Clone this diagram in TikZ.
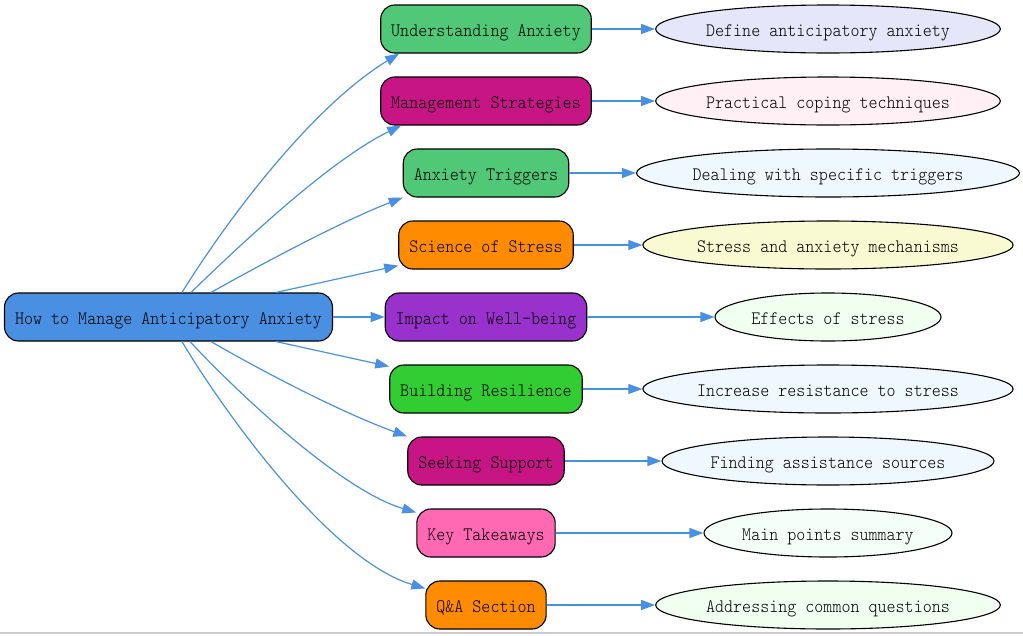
\documentclass[tikz,border=0pt]{standalone}
\usepackage{fontspec}
\newfontfamily\dmono{lmmonolt10-regular.otf}[FakeStretch=0.905]
\usetikzlibrary{shapes.geometric,arrows.meta}
\definecolor{edgeblue}{HTML}{4A90E2}
\definecolor{rootblue}{HTML}{4A90E2}
\definecolor{emerald}{HTML}{50C878}
\definecolor{mvred}{HTML}{C71585}
\definecolor{dorange}{HTML}{FF8C00}
\definecolor{dorchid}{HTML}{9932CC}
\definecolor{lgreen}{HTML}{32CD32}
\definecolor{hpink}{HTML}{FF69B4}
\definecolor{lavender}{HTML}{E6E6FA}
\definecolor{lblush}{HTML}{FFF0F5}
\definecolor{aliceblue}{HTML}{F0F8FF}
\definecolor{lgyellow}{HTML}{FAFAD2}
\definecolor{honeydew}{HTML}{F0FFF0}
\definecolor{mintcream}{HTML}{F5FFFA}
\begin{document}
\begin{tikzpicture}[x=1pt,y=-1pt,
  lbl/.style={font=\dmono\fontsize{19}{22}\selectfont,text height=16.5pt,text depth=2.3pt},
  box/.style={lbl,draw=black,line width=1.1pt,rounded corners=14pt,minimum height=48pt,
    inner xsep=10.5pt,inner ysep=0pt},
  oval/.style={lbl,ellipse,draw=black,line width=1.1pt,minimum height=48pt,inner sep=0pt},
  edge/.style={draw=edgeblue,line width=1.2pt,-{Triangle[length=14pt,width=10pt]}}]
\useasboundingbox (0,0) rectangle (1023,635);
\draw[line width=1.5pt,color=black!20] (0,633) -- (1023,633);

\node[box,fill=rootblue] (root) at (168.5,317) {How to Manage Anticipatory Anxiety};

\node[box,fill=emerald] (u) at (486,29) {Understanding Anxiety};
\node[box,fill=mvred] (m) at (486,101) {Management Strategies};
\node[box,fill=emerald] (t) at (486,173) {Anxiety Triggers};
\node[box,fill=dorange] (s) at (486,245) {Science of Stress};
\node[box,fill=dorchid] (i) at (486,317) {Impact on Well-being};
\node[box,fill=lgreen] (r) at (486,389) {Building Resilience};
\node[box,fill=mvred] (k) at (486,461) {Seeking Support};
\node[box,fill=hpink] (kt) at (486,533) {Key Takeaways};
\node[box,fill=dorange] (q) at (486,605) {Q\&A Section};

\node[oval,fill=lavender,minimum width=344pt] (du) at (828,29) {Define anticipatory anxiety};
\node[oval,fill=lblush,minimum width=344pt] (dm) at (828,101) {Practical coping techniques};
\node[oval,fill=aliceblue,minimum width=380pt] (dt) at (828,173) {Dealing with specific triggers};
\node[oval,fill=lgyellow,minimum width=366pt] (ds) at (828,245) {Stress and anxiety mechanisms};
\node[oval,fill=honeydew,minimum width=226pt] (di) at (828,317) {Effects of stress};
\node[oval,fill=aliceblue,minimum width=367pt] (dr) at (828,389) {Increase resistance to stress};
\node[oval,fill=aliceblue,minimum width=332pt] (dk) at (828,461) {Finding assistance sources};
\node[oval,fill=mintcream,minimum width=248pt] (dkt) at (828,533) {Main points summary};
\node[oval,fill=honeydew,minimum width=344pt] (dq) at (828,605) {Addressing common questions};

% root to topics
\draw[edge] ([xshift=178pt]root.north west) .. controls (225,223) and (310,108) .. ([xshift=19pt]u.south west);
\draw[edge] ([xshift=187pt]root.north west) .. controls (240,245) and (330,160) .. ([xshift=21pt]m.south west);
\draw[edge] ([xshift=207pt]root.north west) .. controls (260,265) and (340,222) .. (t.south west);
\draw[edge] ([xshift=272pt]root.north west) -- ([yshift=4pt]s.south west);
\draw[edge] (root.east) -- (i.west);
\draw[edge] ([xshift=272pt]root.south west) -- ([yshift=-2pt]r.north west);
\draw[edge] ([xshift=207pt]root.south west) .. controls (260,370) and (340,412) .. (k.north west);
\draw[edge] ([xshift=186pt]root.south west) .. controls (235,390) and (340,490) .. ([yshift=-4pt]kt.north west);
\draw[edge] ([xshift=178pt]root.south west) .. controls (224,412) and (330,560) .. ([yshift=-8pt]q.north west);

% topics to details
\draw[edge] (u.east) -- (du.west);
\draw[edge] (m.east) -- (dm.west);
\draw[edge] (t.east) -- (dt.west);
\draw[edge] (s.east) -- (ds.west);
\draw[edge] (i.east) -- (di.west);
\draw[edge] (r.east) -- (dr.west);
\draw[edge] (k.east) -- (dk.west);
\draw[edge] (kt.east) -- (dkt.west);
\draw[edge] (q.east) -- (dq.west);
\end{tikzpicture}
\end{document}
